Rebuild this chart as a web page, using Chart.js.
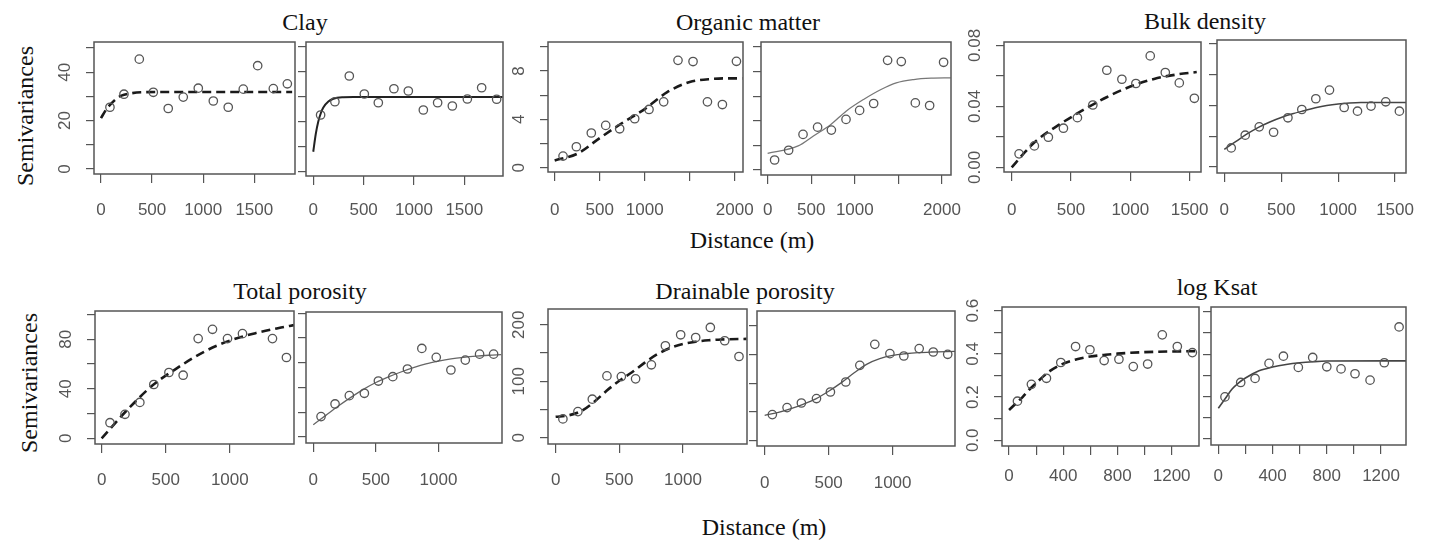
<!DOCTYPE html>
<html>
<head>
<meta charset="utf-8">
<script src="https://cdn.jsdelivr.net/npm/chart.js@4.4.1/dist/chart.umd.min.js"></script>
<style>
    body { margin: 0; width: 1433px; height: 543px; background: #fff; position: relative; overflow: hidden; }
    .label {
        position: absolute;
        font-family: "Liberation Serif", "Times New Roman", serif;
        font-size: 24px;
        line-height: 24px;
        color: #111;
        white-space: nowrap;
        transform: translate(-50%, -50%);
    }
    .rot { transform: translate(-50%, -50%) rotate(-90deg); }
</style>
</head>
<body>
<div class="label" style="left:305px;top:22px">Clay</div>
<div class="label" style="left:748px;top:21.5px">Organic matter</div>
<div class="label" style="left:1205px;top:21.3px">Bulk density</div>
<div class="label" style="left:300px;top:291.3px">Total porosity</div>
<div class="label" style="left:745px;top:291.3px">Drainable porosity</div>
<div class="label" style="left:1217px;top:287px">log Ksat</div>
<div class="label rot" style="left:25px;top:116px">Semivariances</div>
<div class="label rot" style="left:29px;top:382.5px">Semivariances</div>
<div class="label" style="left:752px;top:240px">Distance (m)</div>
<div class="label" style="left:764px;top:527px">Distance (m)</div>

<script>
// ---- tick values and labels (one pair per property) ----
const clayXTicks = [0, 500, 1000, 1500];
const clayXLabels = ['0', '500', '1000', '1500'];
const clayYTicks = [0, 10, 20, 30, 40, 50];
const clayYLabels = ['0', '', '20', '', '40', ''];

const omXTicks = [0, 500, 1000, 1500, 2000];
const omXLabels = ['0', '500', '1000', '', '2000'];
const omYTicks = [0, 2, 4, 6, 8, 10];
const omYLabels = ['0', '', '4', '', '8', ''];

const bdXTicks = [0, 500, 1000, 1500];
const bdXLabels = ['0', '500', '1000', '1500'];
const bdYTicks = [0, 0.02, 0.04, 0.06, 0.08];
const bdYLabels = ['0.00', '', '0.04', '', '0.08'];

const tpXTicks = [0, 500, 1000];
const tpXLabels = ['0', '500', '1000'];
const tpYTicks = [0, 20, 40, 60, 80, 100];
const tpYLabels = ['0', '', '40', '', '80', ''];

const dpXTicks = [0, 500, 1000];
const dpXLabels = ['0', '500', '1000'];
const dpYTicks = [0, 50, 100, 150, 200];
const dpYLabels = ['0', '', '100', '', '200'];

const ksXTicks = [0, 200, 400, 600, 800, 1000, 1200];
const ksXLabels = ['0', '', '400', '', '800', '', '1200'];
const ksYTicks = [0, 0.1, 0.2, 0.3, 0.4, 0.5, 0.6];
const ksYLabels = ['0.0', '', '0.2', '', '0.4', '', '0.6'];

// ---- experimental semivariances (L = dashed model, R = solid model) ----
const clayLagL = [88, 225, 375, 512, 658, 805, 952, 1099, 1245, 1392, 1533, 1686, 1823];
const clayGamL = [25.5, 30.9, 45.4, 31.7, 25.0, 29.7, 33.4, 28.1, 25.5, 33.0, 42.7, 33.2, 35.2];
const clayFitDL = [0, 50, 100, 150, 200, 300, 400, 600, 1870];
const clayFitL = [21, 24.5, 27, 29, 30.3, 31.3, 31.7, 31.8, 31.8];
const clayLagR = [73, 215, 358, 507, 646, 801, 944, 1093, 1235, 1381, 1530, 1672, 1821];
const clayGamR = [22.6, 27.9, 38.2, 31.0, 27.5, 33.1, 32.2, 24.6, 27.5, 26.2, 29.0, 33.5, 28.9];
const clayFitDR = [0, 25, 50, 75, 100, 150, 200, 300, 400, 1880];
const clayFitR = [7.9, 15, 20, 23.3, 25.6, 28, 29.1, 29.7, 29.8, 29.8];

const omLagL = [93, 241, 407, 567, 722, 889, 1048, 1211, 1370, 1537, 1697, 1863, 2019];
const omGamL = [0.96, 1.73, 2.87, 3.50, 3.22, 4.05, 4.82, 5.45, 8.89, 8.79, 5.45, 5.23, 8.81];
const omFitDL = [0, 250, 500, 750, 1000, 1250, 1500, 1750, 2000, 2085];
const omFitL = [0.6, 1.15, 2.45, 3.7, 4.85, 6.25, 7.1, 7.35, 7.4, 7.4];
const omLagR = [80, 241, 406, 573, 731, 899, 1055, 1216, 1376, 1533, 1694, 1858, 2018];
const omGamR = [0.81, 1.60, 2.89, 3.48, 3.24, 4.11, 4.84, 5.40, 8.91, 8.81, 5.45, 5.24, 8.75];
const omFitDR = [0, 350, 525, 725, 900, 1100, 1300, 1475, 1675, 1875, 2100];
const omFitR = [1.35, 1.95, 2.76, 3.70, 4.78, 5.73, 6.54, 7.08, 7.35, 7.46, 7.49];

const bdLagL = [62, 191, 309, 436, 554, 684, 802, 929, 1047, 1168, 1295, 1413, 1540];
const bdGamL = [0.0089, 0.0141, 0.0198, 0.0257, 0.0326, 0.0409, 0.0637, 0.0578, 0.0550, 0.0731, 0.0622, 0.0554, 0.0453];
const bdFitDL = [0, 100, 200, 400, 600, 800, 1000, 1200, 1400, 1560];
const bdFitL = [0, 0.009, 0.017, 0.028, 0.0375, 0.046, 0.053, 0.058, 0.061, 0.0625];
const bdLagR = [61, 184, 307, 433, 559, 681, 804, 924, 1053, 1170, 1289, 1418, 1538];
const bdGamR = [0.0124, 0.0207, 0.0261, 0.0226, 0.0320, 0.0374, 0.0444, 0.0500, 0.0387, 0.0363, 0.0396, 0.0424, 0.0363];
const bdFitDR = [0, 100, 200, 300, 400, 500, 600, 700, 800, 900, 1000, 1100, 1200, 1596];
const bdFitR = [0.0115, 0.0165, 0.0215, 0.0258, 0.0293, 0.0322, 0.0346, 0.0366, 0.0385, 0.0400, 0.0410, 0.0416, 0.0419, 0.0420];

const tpLagL = [65, 182, 298, 407, 525, 636, 753, 865, 982, 1099, 1333, 1442];
const tpGamL = [12.6, 19.4, 29.0, 43.5, 53.2, 51.0, 80.6, 88.1, 80.6, 84.6, 80.6, 65.3];
const tpFitDL = [0, 200, 400, 600, 800, 1000, 1200, 1400, 1500];
const tpFitL = [0, 23, 43, 57.5, 70, 79, 85, 89.5, 91.5];
const tpLagR = [62, 174, 288, 408, 520, 635, 752, 867, 982, 1099, 1214, 1328, 1440];
const tpGamR = [16.5, 26.7, 33.4, 35.3, 45.2, 48.7, 54.9, 71.5, 64.3, 54.1, 62.1, 66.9, 66.9];
const tpFitDR = [0, 100, 200, 300, 400, 500, 600, 700, 800, 900, 1000, 1100, 1200, 1300, 1400, 1500];
const tpFitR = [10, 17.5, 25, 32, 38.5, 44, 48.5, 52.5, 56, 59, 61.2, 63, 64.3, 65.3, 66, 66.5];

const dpLagL = [57, 175, 288, 403, 516, 628, 752, 862, 982, 1100, 1215, 1328, 1440];
const dpGamL = [33.2, 46.2, 68.2, 109.5, 108.3, 104.2, 129.1, 162.8, 182.3, 177.5, 195.3, 171.7, 143.8];
const dpFitDL = [0, 100, 200, 300, 400, 500, 600, 700, 800, 900, 1000, 1100, 1200, 1300, 1500];
const dpFitL = [37, 39.5, 47, 63, 83, 101, 116, 133, 148, 159, 166, 170, 172.5, 174, 175];
const dpLagR = [60, 175, 287, 405, 514, 634, 744, 861, 979, 1088, 1208, 1318, 1431];
const dpGamR = [45.7, 57.8, 65.7, 73.4, 84.8, 102.1, 130.9, 167.3, 151.2, 147.1, 159.9, 154.0, 150.0];
const dpFitDR = [0, 100, 200, 300, 400, 500, 600, 700, 800, 900, 1000, 1100, 1200, 1300, 1488];
const dpFitR = [44.5, 49, 55.5, 63.5, 73, 86, 101, 118, 133, 142.5, 148, 151, 153, 154, 155];

const ksLagL = [62, 165, 276, 382, 491, 597, 702, 811, 917, 1023, 1131, 1242, 1353];
const ksGamL = [0.181, 0.259, 0.287, 0.360, 0.434, 0.419, 0.369, 0.375, 0.341, 0.353, 0.488, 0.434, 0.406];
const ksFitDL = [0, 50, 100, 150, 200, 300, 400, 500, 600, 700, 800, 1000, 1400];
const ksFitL = [0.14, 0.17, 0.20, 0.235, 0.265, 0.32, 0.355, 0.375, 0.388, 0.395, 0.401, 0.408, 0.413];
const ksLagR = [49, 165, 271, 374, 480, 590, 696, 800, 905, 1008, 1119, 1224, 1333];
const ksGamR = [0.199, 0.267, 0.286, 0.357, 0.391, 0.338, 0.385, 0.341, 0.331, 0.308, 0.278, 0.360, 0.529];
const ksFitDR = [0, 50, 100, 150, 200, 300, 400, 500, 600, 700, 800, 1384];
const ksFitR = [0.145, 0.19, 0.235, 0.265, 0.288, 0.322, 0.340, 0.352, 0.360, 0.365, 0.368, 0.369];

// ---- panel layout: plot box in page pixels, axis ranges, line style ----
const DASHED = { color: '#1a1a1a', width: 2.6, dash: [9, 5] };
const panels = [
    { box: [94, 42, 295, 174], x: [-68, 1898], y: [-2.1, 52.5], labelY: 210.7, yText: true,
      xt: clayXTicks, xl: clayXLabels, yt: clayYTicks, yl: clayYLabels,
      lag: clayLagL, gam: clayGamL, fd: clayFitDL, fit: clayFitL, line: DASHED },
    { box: [306, 42, 503, 176], x: [-72, 1884], y: [-1.8, 51.8], labelY: 210.7,
      xt: clayXTicks, xl: clayXLabels, yt: clayYTicks, yl: clayYLabels,
      lag: clayLagR, gam: clayGamR, fd: clayFitDR, fit: clayFitR, line: { color: '#222', width: 2 } },
    { box: [548, 42, 743, 172], x: [-74, 2092], y: [-0.36, 10.41], labelY: 210.7, yText: true,
      xt: omXTicks, xl: omXLabels, yt: omYTicks, yl: omYLabels,
      lag: omLagL, gam: omGamL, fd: omFitDL, fit: omFitL, line: DASHED },
    { box: [761, 42, 951, 175], x: [-76, 2103], y: [-0.41, 10.4], labelY: 210.7,
      xt: omXTicks, xl: omXLabels, yt: omYTicks, yl: omYLabels,
      lag: omLagR, gam: omGamR, fd: omFitDR, fit: omFitR, line: { color: '#777', width: 1.3 } },
    { box: [1004, 42, 1201, 172], x: [-65, 1596], y: [-0.003, 0.0822], labelY: 210.7, yText: true,
      xt: bdXTicks, xl: bdXLabels, yt: bdYTicks, yl: bdYLabels,
      lag: bdLagL, gam: bdGamL, fd: bdFitDL, fit: bdFitL, line: DASHED },
    { box: [1217, 40, 1406, 173], x: [-64, 1596], y: [-0.0039, 0.0826], labelY: 210.7,
      xt: bdXTicks, xl: bdXLabels, yt: bdYTicks, yl: bdYLabels,
      lag: bdLagR, gam: bdGamR, fd: bdFitDR, fit: bdFitR, line: { color: '#444', width: 1.5 } },
    { box: [95, 311, 294, 444], x: [-52, 1501], y: [-4.6, 102.9], labelY: 480.8, yText: true,
      xt: tpXTicks, xl: tpXLabels, yt: tpYTicks, yl: tpYLabels,
      lag: tpLagL, gam: tpGamL, fd: tpFitDL, fit: tpFitL, line: DASHED },
    { box: [306, 312, 502, 443], x: [-58, 1507], y: [-4.8, 100.9], labelY: 480.8,
      xt: tpXTicks, xl: tpXLabels, yt: tpYTicks, yl: tpYLabels,
      lag: tpLagR, gam: tpGamR, fd: tpFitDR, fit: tpFitR, line: { color: '#666', width: 1.3 } },
    { box: [548, 309, 747, 444], x: [-60, 1503], y: [-11.2, 228], labelY: 480.8, yText: true,
      xt: dpXTicks, xl: dpXLabels, yt: dpYTicks, yl: dpYLabels,
      lag: dpLagL, gam: dpGamL, fd: dpFitDL, fit: dpFitL, line: DASHED },
    { box: [757, 311, 955, 446], x: [-60, 1488], y: [-8.7, 225], labelY: 483,
      xt: dpXTicks, xl: dpXLabels, yt: dpYTicks, yl: dpYLabels,
      lag: dpLagR, gam: dpGamR, fd: dpFitDR, fit: dpFitR, line: { color: '#555', width: 1.3 } },
    { box: [1002, 307, 1199, 446], x: [-52, 1402], y: [-0.0265, 0.617], labelY: 476.7, yText: true,
      xt: ksXTicks, xl: ksXLabels, yt: ksYTicks, yl: ksYLabels,
      lag: ksLagL, gam: ksGamL, fd: ksFitDL, fit: ksFitL, line: DASHED },
    { box: [1211, 307, 1406, 445], x: [-54, 1384], y: [-0.028, 0.623], labelY: 476.7,
      xt: ksXTicks, xl: ksXLabels, yt: ksYTicks, yl: ksYLabels,
      lag: ksLagR, gam: ksGamR, fd: ksFitDR, fit: ksFitR, line: { color: '#444', width: 1.6 } }
];

// margins of each canvas around its plot box
const M = { left: 60, top: 14, right: 40, bottom: 50 };
const INK = '#555';
const TICK_FONT = { family: '"Liberation Sans", Arial, sans-serif', size: 17 };
const X_TICK_LEN = 9;

// frame around the plot area, like R's box()
const boxPlugin = {
    id: 'box',
    afterDraw(chart) {
        const { left, top, right, bottom } = chart.chartArea;
        const ctx = chart.ctx;
        ctx.save();
        ctx.strokeStyle = INK;
        ctx.lineWidth = 1.5;
        ctx.strokeRect(left, top, right - left, bottom - top);
        ctx.restore();
    }
};

// R draws y tick labels parallel to the axis
function yTextPlugin(labels) {
    return {
        id: 'yText',
        afterDraw(chart) {
            const ys = chart.scales.y;
            const ctx = chart.ctx;
            ctx.save();
            ctx.font = TICK_FONT.size + 'px ' + TICK_FONT.family;
            ctx.fillStyle = INK;
            ctx.textAlign = 'center';
            ctx.textBaseline = 'middle';
            ys.ticks.forEach((t, i) => {
                if (!labels[i]) return;
                ctx.save();
                ctx.translate(chart.chartArea.left - 29, ys.getPixelForValue(t.value));
                ctx.rotate(-Math.PI / 2);
                ctx.fillText(labels[i], 0, 0);
                ctx.restore();
            });
            ctx.restore();
        }
    };
}

function makePanel(p) {
    const [x0, y0, x1, y1] = p.box;
    const w = x1 - x0 + M.left + M.right;
    const h = y1 - y0 + M.top + M.bottom;
    const canvas = document.createElement('canvas');
    canvas.width = w;
    canvas.height = h;
    canvas.style.cssText = `position:absolute;left:${x0 - M.left}px;top:${y0 - M.top}px;width:${w}px;height:${h}px`;
    document.body.appendChild(canvas);

    const labelPad = p.labelY - y1 - X_TICK_LEN - TICK_FONT.size * 1.2 / 2;

    new Chart(canvas, {
        type: 'scatter',
        data: {
            datasets: [
                {
                    type: 'line',
                    data: p.fd.map((d, i) => ({ x: d, y: p.fit[i] })),
                    borderColor: p.line.color,
                    borderWidth: p.line.width,
                    borderDash: p.line.dash || [],
                    pointRadius: 0,
                    fill: false,
                    cubicInterpolationMode: 'monotone',
                    order: 2
                },
                {
                    data: p.lag.map((d, i) => ({ x: d, y: p.gam[i] })),
                    pointStyle: 'circle',
                    pointRadius: 4.2,
                    pointBorderWidth: 1.3,
                    borderColor: INK,
                    backgroundColor: 'rgba(0,0,0,0)',
                    order: 1
                }
            ]
        },
        options: {
            responsive: false,
            animation: false,
            events: [],
            layout: { padding: { left: 0, top: M.top, right: M.right, bottom: 0 } },
            plugins: { legend: { display: false }, tooltip: { enabled: false } },
            scales: {
                x: {
                    type: 'linear',
                    bounds: 'data',
                    min: p.x[0],
                    max: p.x[1],
                    afterBuildTicks: ax => { ax.ticks = p.xt.map(v => ({ value: v })); },
                    afterFit: ax => { ax.height = M.bottom; },
                    border: { display: false },
                    grid: { drawOnChartArea: false, drawTicks: true, tickLength: X_TICK_LEN, color: INK, lineWidth: 1.2 },
                    ticks: {
                        autoSkip: false,
                        maxRotation: 0,
                        padding: labelPad,
                        color: INK,
                        font: TICK_FONT,
                        callback: (v, i) => p.xl[i]
                    }
                },
                y: {
                    type: 'linear',
                    bounds: 'data',
                    min: p.y[0],
                    max: p.y[1],
                    afterBuildTicks: ax => { ax.ticks = p.yt.map(v => ({ value: v })); },
                    afterFit: ax => { ax.width = M.left; },
                    border: { display: false },
                    grid: { drawOnChartArea: false, drawTicks: true, tickLength: 8, color: INK, lineWidth: 1.2 },
                    ticks: { display: false }
                }
            }
        },
        plugins: p.yText ? [boxPlugin, yTextPlugin(p.yl)] : [boxPlugin]
    });
}

panels.forEach(makePanel);
</script>
</body>
</html>
